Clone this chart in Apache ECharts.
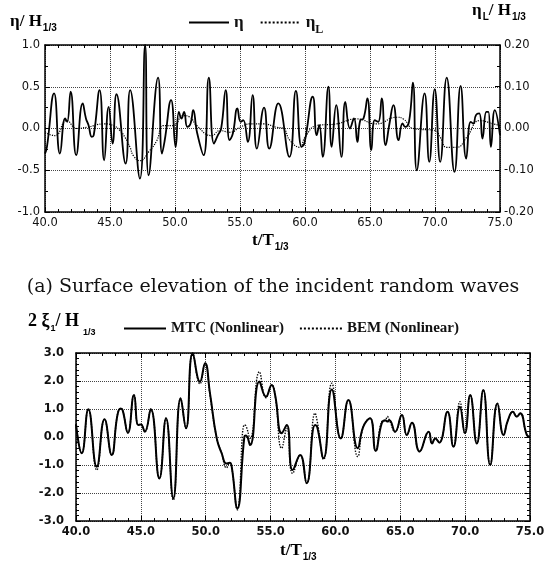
<!DOCTYPE html>
<html><head><meta charset="utf-8">
<script src="https://cdn.jsdelivr.net/npm/echarts@6/dist/echarts.min.js"></script>
<style>html,body{margin:0;padding:0;background:#fff}#c{width:559px;height:580px}</style>
</head><body><div id="c"></div>
<script>
// ---- Panel (a): incident wave elevation ----
const tEta = [40.0,40.15,40.7,41.15,41.55,41.7,41.97,42.4,42.9,43.15,43.35,43.6,43.75,44.2,44.55,44.9,45.2,45.5,46.2,46.55,47.3,47.7,47.97,48.7,49.0,49.2,49.7,50.05,50.3,50.5,50.7,50.95,51.2,51.4,51.7,52.2,52.6,53.0,53.3,53.55,53.9,54.2,54.45,54.8,55.05,55.25,55.6,55.97,56.3,56.85,57.25,57.95,58.8,59.3,59.74,59.95,60.6,60.9,61.1,61.36,61.8,62.05,62.4,62.8,63.1,63.46,63.77,64.03,64.25,64.5,64.8,65.1,65.37,65.63,65.9,66.2,66.5,66.8,67.2,67.5,67.7,68.0,68.3,68.6,69.2,69.56,69.98,70.4,70.9,71.5,71.97,72.4,72.75,72.95,73.15,73.4,73.65,73.95,74.1,74.3,74.6,75.0];
const eta = [-0.30,-0.22,0.42,-0.30,0.12,0.08,0.44,-0.32,0.30,0.12,0.04,-0.10,-0.08,0.46,-0.38,0.26,-0.18,0.41,-0.42,0.46,-0.60,1.00,-0.56,0.61,-0.30,-0.15,0.34,-0.22,0.20,0.12,0.20,0.02,0.06,0.22,-0.05,-0.32,0.61,-0.18,-0.08,0.00,0.46,-0.14,-0.06,0.24,0.08,0.10,-0.16,0.40,-0.24,0.25,-0.24,0.30,-0.34,0.45,-0.22,-0.18,0.38,-0.08,0.04,-0.34,0.50,-0.22,0.28,-0.34,0.32,0.00,0.12,-0.16,0.10,0.12,0.36,-0.26,0.10,0.08,0.36,-0.20,0.06,0.28,-0.14,0.06,0.02,0.08,0.55,-0.50,0.42,-0.40,0.47,-0.40,0.61,-0.52,0.51,-0.36,0.08,0.06,0.16,0.18,-0.12,0.20,0.20,-0.22,0.22,-0.08];
const tEtaL = [40.0,40.77,41.67,42.44,43.2,44.6,45.26,45.77,46.15,46.54,46.8,47.3,48.0,48.6,49.1,49.87,50.64,51.15,51.67,52.82,53.46,54.23,55.0,55.77,56.8,57.8,58.33,58.85,59.6,60.0,60.9,62.4,63.97,65.5,67.05,67.56,68.33,70.0,70.4,70.9,71.67,72.44,73.46,74.5,75.0];
const etaL = [-0.010,-0.017,0.019,0.000,0.003,0.011,0.007,-0.005,-0.021,-0.045,-0.065,-0.077,-0.055,-0.029,0.007,0.007,0.031,0.027,0.007,-0.017,-0.005,-0.009,0.003,0.011,0.011,0.003,0.000,-0.029,-0.045,-0.021,0.007,0.011,0.023,0.011,0.027,0.023,0.000,-0.005,-0.021,-0.045,-0.045,-0.021,0.019,0.011,0.007];

// ---- Panel (b): heave response ----
const tXi = [40.0,40.44,40.95,41.6,42.2,42.75,43.2,43.45,43.6,44.0,44.47,44.8,45.0,45.3,45.76,46.43,46.94,47.5,48.07,48.48,49.0,49.56,49.95,50.33,50.85,51.23,51.6,51.85,52.0,52.44,52.98,53.1,53.42,54.14,54.65,55.09,55.35,55.86,56.25,56.7,57.28,57.78,58.43,58.6,59.09,59.72,60.41,61.0,61.72,62.15,62.67,63.1,63.57,63.85,64.0,64.16,64.6,65.12,65.5,65.9,66.49,67.19,67.45,67.7,68.0,68.64,69.1,69.6,69.98,70.39,70.9,71.4,71.93,72.49,72.96,73.3,73.68,73.98,74.24,74.76,75.0];
const mtc = [0.45,-0.58,0.99,-1.06,0.63,-0.64,0.80,1.02,0.95,0.15,1.50,0.43,0.45,0.19,0.99,-1.48,0.67,-2.19,1.38,0.31,2.99,1.98,2.63,1.56,-0.05,-0.58,-0.95,-0.92,-1.05,-2.55,0.01,0.05,-0.29,1.98,1.44,1.86,1.50,0.13,0.43,-1.18,-0.64,-1.65,0.43,0.35,-0.76,1.70,-0.05,1.32,-0.40,0.37,0.67,-0.49,0.49,0.60,0.55,0.60,0.19,0.79,0.07,0.51,-0.52,0.19,-0.23,-0.05,-0.20,0.90,-0.35,1.08,0.13,1.50,-0.23,1.68,-1.00,1.20,0.07,0.60,0.90,0.73,0.85,0.07,0.01];
const bem = [0.45,-0.58,0.99,-1.18,0.63,-0.64,0.80,1.02,0.95,0.15,1.50,0.43,0.45,0.19,0.99,-1.48,0.67,-2.25,1.38,0.31,2.99,1.90,2.63,1.50,-0.05,-0.58,-1.10,-0.92,-1.05,-2.60,0.43,0.40,-0.05,2.33,1.40,1.86,1.50,-0.40,0.30,-1.30,-0.64,-1.65,0.85,0.55,-0.80,1.92,-0.05,1.32,-0.70,0.37,0.67,-0.49,0.55,0.60,0.73,0.60,0.19,0.79,0.07,0.51,-0.52,0.19,-0.23,-0.05,-0.20,0.90,-0.35,1.26,0.13,1.50,-0.23,1.68,-1.00,1.20,0.07,0.60,0.90,0.73,0.85,0.07,0.01];

const SANS = '"Liberation Sans", Arial, sans-serif';
const TICK = '"DejaVu Sans", sans-serif';
const SERIF = '"Liberation Serif", "Times New Roman", serif';
const CAPTION = '"DejaVu Serif", serif';
const pairs = (t, v) => t.map((x, i) => [x, v[i]]);

const grid0 = {left: 45, top: 45, width: 455, height: 167};
const grid1 = {left: 76, top: 353, width: 454, height: 168};

function xAx(gi, pos, showLabel, bold, grid) {
  return {
    type: 'value', gridIndex: gi, position: pos, min: 40, max: 75, interval: 5,
    axisLine: {show: true, onZero: false, lineStyle: {color: '#000', width: 1.5}},
    axisTick: {show: true, inside: true, length: 5, lineStyle: {color: '#000', width: 1}},
    minorTick: {show: true, splitNumber: 5, length: 3, lineStyle: {color: '#000', width: 1}},
    axisLabel: {show: showLabel, margin: 5, fontFamily: TICK, fontSize: 11.5, fontWeight: bold ? 'bold' : 'normal', color: '#111',
      formatter: v => v.toFixed(1)},
    splitLine: {show: grid, lineStyle: {type: 'dotted', color: '#444', width: 1}}
  };
}
function yAx(gi, pos, min, max, interval, minorSplit, showLabel, dec, bold, grid, margin) {
  return {
    type: 'value', gridIndex: gi, position: pos, min: min, max: max, interval: interval,
    axisLine: {show: true, onZero: false, lineStyle: {color: '#000', width: 1.5}},
    axisTick: {show: true, inside: true, length: 5, lineStyle: {color: '#000', width: 1}},
    minorTick: {show: true, splitNumber: minorSplit, length: 3, lineStyle: {color: '#000', width: 1}},
    axisLabel: {show: showLabel, margin: margin, fontFamily: TICK, fontSize: 11.5, fontWeight: bold ? 'bold' : 'normal', color: '#111',
      formatter: v => v.toFixed(dec)},
    splitLine: {show: grid, lineStyle: {type: 'dotted', color: '#444', width: 1}}
  };
}

const nameRich = {
  m: {fontFamily: SERIF, fontWeight: 'bold', fontSize: 17, color: '#111'},
  s: {fontFamily: SANS, fontWeight: 'bold', fontSize: 10, color: '#111', padding: [12, 0, 0, 1]}
};
const nameRichB = {
  m: {fontFamily: SERIF, fontWeight: 'bold', fontSize: 18, color: '#111'},
  s: {fontFamily: SANS, fontWeight: 'bold', fontSize: 9, color: '#111', padding: [14, 0, 0, 1]},
  w: {fontFamily: SANS, fontWeight: 'bold', fontSize: 9, color: '#111', padding: [22, 0, 0, 4]}
};

const option = {
  animation: false,
  backgroundColor: '#fff',
  grid: [
    Object.assign({}, grid0),
    Object.assign({}, grid1)
  ],
  xAxis: [
    xAx(0, 'bottom', true, false, true),
    xAx(0, 'top', false, false, false),
    xAx(1, 'bottom', true, true, true),
    xAx(1, 'top', false, true, false)
  ],
  yAxis: [
    yAx(0, 'left', -1, 1, 0.5, 2, true, 1, false, true, 5),
    yAx(0, 'right', -0.2, 0.2, 0.1, 2, true, 2, false, false, 4),
    yAx(1, 'left', -3, 3, 1, 5, true, 1, true, true, 12),
    yAx(1, 'right', -3, 3, 1, 5, false, 1, true, false, 4)
  ],
  legend: [
    {
      data: ['η', 'ηL'], left: 183, top: 9, itemWidth: 40, itemHeight: 10, itemGap: 16,
      itemStyle: {opacity: 0},
      textStyle: {fontFamily: SERIF, fontWeight: 'bold', fontSize: 17, color: '#111',
        rich: {m: {fontFamily: SERIF, fontWeight: 'bold', fontSize: 17, color: '#111'},
               s: {fontFamily: SERIF, fontWeight: 'bold', fontSize: 12, color: '#111', padding: [14, 0, 0, 0]}}},
      formatter: n => n === 'ηL' ? '{m|η}{s|L}' : '{m|η}'
    },
    {
      data: ['MTC (Nonlinear)', 'BEM (Nonlinear)'], left: 118, top: 316, itemWidth: 42, itemHeight: 10, itemGap: 15,
      itemStyle: {opacity: 0},
      textStyle: {fontFamily: SERIF, fontWeight: 'bold', fontSize: 15, color: '#111'}
    }
  ],
  graphic: [
    {type: 'text', x: 10, y: 11, style: {text: '{m|η/ H}{s|1/3}', rich: nameRich}},
    {type: 'text', x: 472, y: 0, style: {text: '{m|η}{s|L}{m|/ H}{s|1/3}', rich: nameRich}},
    {type: 'text', x: 252, y: 230, style: {text: '{m|t/T}{s|1/3}', rich: nameRich}},
    {type: 'text', x: 273, y: 287, style: {text: '(a) Surface elevation of the incident random waves',
      font: '19px ' + CAPTION, fill: '#111', textAlign: 'center', verticalAlign: 'middle'}},
    {type: 'text', x: 28, y: 306, style: {text: '{m|2 ξ}{s|1}{m|/ H}{w|1/3}', rich: nameRichB}},
    {type: 'text', x: 280, y: 540, style: {text: '{m|t/T}{s|1/3}', rich: nameRich}}
  ],
  series: [
    {name: 'η', type: 'line', xAxisIndex: 0, yAxisIndex: 0, data: pairs(tEta, eta), smooth: 0.5,
      symbol: 'none', lineStyle: {color: '#000', width: 1.8}, itemStyle: {color: '#000'}, z: 3},
    {name: 'ηL', type: 'line', xAxisIndex: 0, yAxisIndex: 1, data: pairs(tEtaL, etaL), smooth: 0.5,
      symbol: 'none', lineStyle: {color: '#000', width: 1.2, type: 'dotted'}, itemStyle: {color: '#000'}, z: 2},
    {name: 'MTC (Nonlinear)', type: 'line', xAxisIndex: 2, yAxisIndex: 2, data: pairs(tXi, mtc), smooth: 0.5,
      symbol: 'none', lineStyle: {color: '#000', width: 2}, itemStyle: {color: '#000'}, z: 3},
    {name: 'BEM (Nonlinear)', type: 'line', xAxisIndex: 2, yAxisIndex: 2, data: pairs(tXi, bem), smooth: 0.5,
      symbol: 'none', lineStyle: {color: '#000', width: 1.4, type: 'dotted'}, itemStyle: {color: '#000'}, z: 2}
  ]
};
const chart = echarts.init(document.getElementById('c'), null, {renderer: 'canvas'});
chart.setOption(option);
</script></body></html>
